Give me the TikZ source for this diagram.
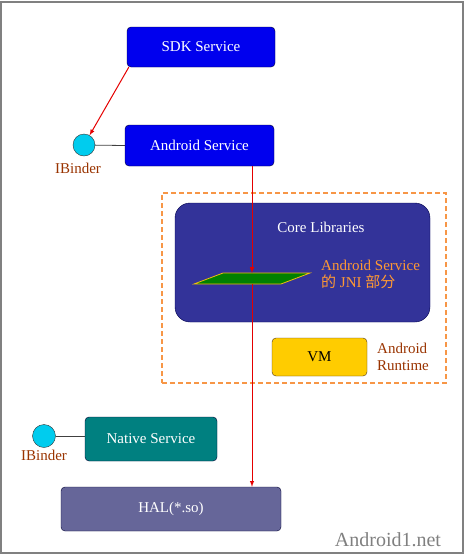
\documentclass[tikz,border=0pt]{standalone}
\usepackage{fontspec}
\setmainfont{Liberation Serif}
\newfontfamily\cjk{Noto Sans CJK SC}
\usepackage {tikz}
\usetikzlibrary{shapes.geometric, arrows}
\usetikzlibrary {positioning}

\definecolor{srvblue}{HTML}{0000EE}
\definecolor{coreblue}{HTML}{333399}
\definecolor{binder}{HTML}{00CCEE}
\definecolor{brownlbl}{HTML}{993300}
\definecolor{dashorange}{HTML}{F79646}
\definecolor{jniorange}{HTML}{FF9933}
\definecolor{vmgold}{HTML}{FFCC00}
\definecolor{halgray}{HTML}{666699}
\definecolor{nativeteal}{HTML}{008080}

\begin{document}
\begin{tikzpicture}[x=1pt,y=-1pt]
\tikzstyle{arrow} = [draw=red!90!black,line width=1pt,->,>=latex]
\tikzstyle{box} = [rectangle,rounded corners=4pt,draw=black!80!blue,inner sep=0pt,text=white,font=\fontsize{15}{17}\selectfont]
\tikzstyle{binderball} = [circle,fill=binder,draw=black!80,inner sep=0pt,minimum size=22pt]
\tikzstyle{lbl} = [inner sep=0pt,text=brownlbl,font=\fontsize{15}{17}\selectfont]

\useasboundingbox (0,0) rectangle (469,558);
\draw[gray,line width=1.2pt] (1,2) rectangle (463,553);

%Java side services
\node[box,fill=srvblue,minimum width=148pt,minimum height=40pt] (sdk) at (201,47) {SDK Service};
\node[box,fill=srvblue,minimum width=149pt,minimum height=41pt] (asrv) at (199.5,145.5) {Android Service};
\node[binderball] (ib1) at (84,145) {};
\node[lbl] (ib1lbl) at (78,168) {IBinder};

%Android runtime
\node[rectangle,draw=dashorange,dash pattern=on 5pt off 3pt,line width=1.3pt,minimum width=284pt,minimum height=190pt] (runtime) at (304,288) {};
\node[box,rounded corners=15pt,fill=coreblue,draw=black!70!blue,minimum width=255pt,minimum height=119pt] (core) at (302.5,262.5) {};
\node[inner sep=0pt,text=white,font=\fontsize{15}{17}\selectfont] (corelbl) at (321,227) {Core Libraries};
%JNI plate
\draw[fill=green!50!black,draw=vmgold!80!brown,line width=0.8pt] (194,284) -- (223,273) -- (310,273) -- (281,284) -- cycle;
\coordinate (jnitop) at (252,273);
\coordinate (jnibot) at (252,284);
\node[inner sep=0pt,anchor=west,align=left,text=jniorange,font=\fontsize{15}{17}\selectfont] (jnilbl) at (321,274.5) {Android Service\\{\cjk 的} JNI {\cjk 部分}};
\node[box,fill=vmgold,draw=black!60!brown,text=black,minimum width=95pt,minimum height=38pt] (vm) at (319.5,357) {VM};
\node[lbl,anchor=west,align=left] (rtlbl) at (377,357) {Android\\Runtime};

%Native side
\node[box,fill=nativeteal,minimum width=132pt,minimum height=44pt] (native) at (151,439) {Native Service};
\node[binderball,minimum size=23pt] (ib2) at (44,436) {};
\node[lbl] (ib2lbl) at (44,455) {IBinder};
\node[box,fill=halgray,minimum width=220pt,minimum height=44pt] (hal) at (171,509) {HAL(*.so)};

\node[inner sep=0pt,text=gray,font=\fontsize{20}{22}\selectfont] (site) at (388,540) {Android1.net};

%Connections
\draw[arrow] ([xshift=2pt]sdk.south west) -- (ib1.60);
\draw[black!75,line width=0.8pt] (ib1) -- (asrv.west);
\draw[black!75,line width=0.8pt] (ib2) -- (ib2 -| native.west);
\draw[arrow] (asrv.south -| jnitop) -- (jnitop);
\draw[arrow] (jnibot) -- (jnibot |- hal.north);

\end{tikzpicture}
\end{document}
